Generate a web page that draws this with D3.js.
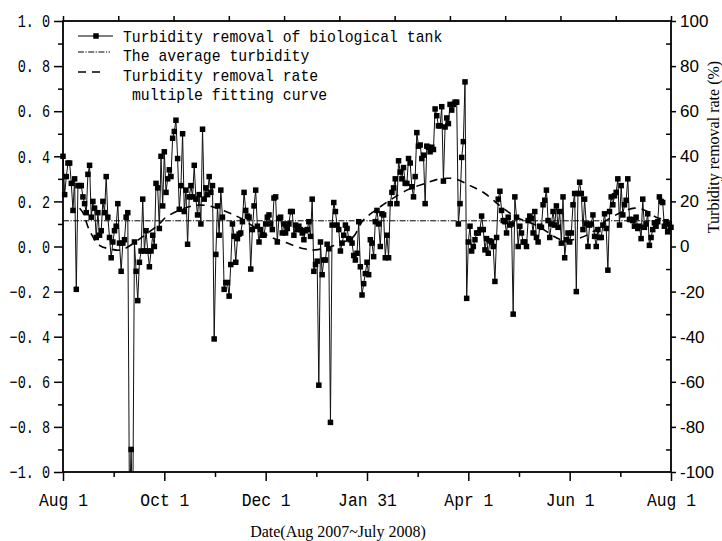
<!DOCTYPE html>
<html><head><meta charset="utf-8">
<script src="https://cdn.jsdelivr.net/npm/d3@7"></script>
<style>body{margin:0;background:#fff}</style>
</head><body>
<svg id="c" width="722" height="541"></svg>
<script>
// ---------------- data ----------------
const startDate = "2007-08-01";
// daily turbidity removal of biological tank (Aug 1 2007 .. Aug 1 2008)
const removal = [
 0.40, 0.23, 0.31, 0.37, 0.37, 0.28, 0.16, 0.30, -0.19, 0.27,
 0.27, 0.27, 0.22, 0.19, 0.15, 0.32, 0.36, 0.13, 0.20, 0.17,
 0.04, 0.15, 0.05, 0.07, 0.20, 0.15, 0.31, 0.13, 0.04, -0.05,
 0.02, 0.07, 0.09, 0.19, 0.015, -0.11, 0.015, 0.03, 0.13, 0.15,
 -1.15, -0.90, -1.2, 0.02, -0.11, -0.24, -0.07, -0.02, 0.21, -0.02,
 0.07, -0.02, -0.09, -0.02, 0.05, 0.00, 0.28, 0.26, 0.08, 0.40,
 0.18, 0.42, 0.24, 0.30, 0.34, 0.31, 0.48, 0.51, 0.56, 0.39,
 0.165, 0.27, 0.50, 0.155, 0.25, 0.01, 0.22, 0.27, 0.22, 0.36,
 0.21, 0.14, 0.23, 0.10, 0.52, 0.21, 0.26, 0.23, 0.31, 0.24,
 0.27, -0.41, -0.035, 0.18, 0.05, 0.25, 0.13, -0.19, -0.16, -0.16,
 -0.22, -0.08, 0.10, 0.045, -0.07, 0.035, 0.055, 0.06, 0.11, 0.24,
 0.16, 0.135, 0.13, -0.10, 0.075, 0.18, 0.25, 0.09, 0.02, 0.075,
 0.05, 0.05, 0.10, 0.13, 0.14, 0.10, 0.075, 0.215, 0.22, 0.02,
 0.125, 0.13, 0.06, 0.10, 0.06, 0.08, 0.10, 0.155, 0.155, 0.05,
 0.095, 0.075, 0.09, 0.075, 0.06, 0.03, 0.07, 0.075, 0.11, 0.045,
 0.21, -0.11, -0.08, -0.065, -0.615, 0.02, -0.125, -0.06, -0.06, 0.01,
 -0.01, -0.78, 0.095, 0.195, 0.155, 0.095, 0.075, -0.02, 0.015, 0.05,
 0.095, 0.08, 0.035, 0.03, 0.015, -0.04, -0.06, -0.03, 0.11, -0.09,
 -0.215, -0.165, -0.12, -0.07, -0.125, 0.03, 0.015, -0.045, 0.11, 0.16,
 0.10, 0.00, 0.145, 0.14, -0.05, 0.05, -0.05, 0.19, 0.24, 0.26,
 0.30, 0.19, 0.38, 0.33, 0.30, 0.35, 0.28, 0.28, 0.39, 0.37,
 0.265, 0.22, 0.31, 0.505, 0.445, 0.45, 0.39, 0.405, 0.19, 0.445,
 0.44, 0.42, 0.44, 0.43, 0.61, 0.58, 0.535, 0.535, 0.62, 0.29,
 0.53, 0.57, 0.545, 0.63, 0.605, 0.63, 0.64, 0.64, 0.10, 0.19,
 0.395, 0.465, 0.73, -0.23, 0.02, 0.09, -0.02, 0.00, 0.03, 0.06,
 0.06, 0.075, 0.135, 0.075, -0.015, 0.035, -0.03, 0.025, 0.02, 0.00,
 -0.155, 0.04, 0.21, 0.245, 0.16, 0.115, 0.11, 0.06, 0.13, 0.095,
 0.10, -0.30, 0.22, 0.13, 0.00, 0.09, 0.06, 0.02, 0.02, 0.00,
 0.115, 0.135, 0.125, 0.06, 0.155, 0.04, 0.02, 0.09, 0.085, 0.185,
 0.205, 0.25, 0.115, 0.04, 0.10, 0.155, 0.095, 0.18, 0.085, 0.155,
 0.015, 0.22, -0.05, 0.03, 0.06, 0.02, 0.06, 0.185, 0.235, -0.20,
 0.235, 0.285, 0.235, 0.075, 0.21, 0.10, 0.00, 0.095, 0.10, 0.14,
 0.045, 0.00, 0.075, 0.04, 0.04, 0.095, 0.145, 0.08, -0.105, 0.155,
 0.22, 0.185, 0.225, 0.24, 0.30, 0.095, 0.27, 0.14, 0.185, 0.205,
 0.30, 0.12, 0.12, 0.115, 0.09, 0.13, 0.08, 0.09, 0.035, 0.21,
 0.085, 0.10, 0.145, 0.005, 0.04, 0.075, 0.105, 0.09, 0.11, 0.22,
 0.20, 0.195, 0.09, 0.11, 0.065, 0.10, 0.085
];
const averageTurbidity = 0.114;
// multiple fitting curve (day offset from start, value)
const fitDays   = [10, 12, 16, 22, 28, 35, 51, 58, 62, 78, 88, 98, 107, 124, 135, 145, 152, 169, 175, 180, 187, 207, 218, 227, 236, 245, 254, 264, 273, 286, 300, 310, 320, 328, 344, 352, 357, 362];
const fitValues = [0.17, 0.15, 0.07, 0.005, -0.01, -0.015, 0.06, 0.10, 0.13, 0.18, 0.18, 0.155, 0.125, 0.045, 0.015, -0.01, -0.015, 0.02, 0.045, 0.11, 0.155, 0.25, 0.28, 0.30, 0.30, 0.27, 0.235, 0.175, 0.13, 0.09, 0.03, 0.035, 0.07, 0.12, 0.17, 0.155, 0.13, 0.12];

const xTickDates  = ["2007-08-01","2007-10-01","2007-12-01","2008-01-31","2008-04-01","2008-06-01","2008-08-01"];
const xTickLabels = ["Aug 1","Oct 1","Dec 1","Jan 31","Apr 1","Jun 1","Aug 1"];
const leftTicks   = [-1.0,-0.8,-0.6,-0.4,-0.2,0.0,0.2,0.4,0.6,0.8,1.0];
const leftMinor   = [-0.9,-0.7,-0.5,-0.3,-0.1,0.1,0.3,0.5,0.7,0.9];
const rightTicks  = [-100,-80,-60,-40,-20,0,20,40,60,80,100];
const rightMinor  = [-90,-70,-50,-30,-10,10,30,50,70,90];
const topTickCount = 11;
const legendLabels = ["Turbidity removal of biological tank","The average turbidity","Turbidity removal rate","multiple fitting curve"];
const xTitle = "Date(Aug 2007~July 2008)";
const yRightTitle = "Turbidity removal rate (%)";

// ---------------- drawing ----------------
const svg = d3.select("#c");
const L = 63, R = 671, T = 21, B = 472;
const MONO = "'Liberation Mono', 'Courier New', monospace";
const SERIF = "'Liberation Serif', 'Times New Roman', serif";
const SANS = "'Liberation Sans', Arial, sans-serif";

const parse = d3.utcParse("%Y-%m-%d");
const t0 = parse(startDate);
const dates = removal.map((v, i) => d3.utcDay.offset(t0, i));
const tickDates = xTickDates.map(parse);

const x = d3.scaleUtc().domain([tickDates[0], tickDates[tickDates.length - 1]]).range([L, R]);
const y = d3.scaleLinear().domain([-1, 1]).range([B, T]);
const yR = d3.scaleLinear().domain([-100, 100]).range([B, T]);
const xTop = d3.scaleLinear().domain([0, topTickCount]).range([L, R]);

svg.append("defs").append("clipPath").attr("id", "clip")
  .append("rect").attr("x", L - 4).attr("y", T).attr("width", R - L + 8).attr("height", B - T);

const plot = svg.append("g").attr("clip-path", "url(#clip)");

// average line
plot.append("line")
  .attr("x1", L).attr("x2", R).attr("y1", y(averageTurbidity)).attr("y2", y(averageTurbidity))
  .attr("stroke", "#000").attr("stroke-width", 1).attr("stroke-dasharray", "6,1.5,1.2,1.5");

// main series line
plot.append("path").datum(removal)
  .attr("fill", "none").attr("stroke", "#111").attr("stroke-width", 1)
  .attr("d", d3.line().x((d, i) => x(dates[i])).y(d => y(d)));

// markers
const ms = 5.5;
plot.selectAll("rect.m").data(removal).join("rect").attr("class", "m")
  .attr("x", (d, i) => x(dates[i]) - ms / 2).attr("y", d => y(d) - ms / 2)
  .attr("width", ms).attr("height", ms).attr("fill", "#000");

// fitting curve
const fitDates = fitDays.map(dd => d3.utcDay.offset(t0, dd));
plot.append("path").datum(fitValues)
  .attr("fill", "none").attr("stroke", "#000").attr("stroke-width", 1.6)
  .attr("stroke-dasharray", "8,6")
  .attr("d", d3.line().curve(d3.curveCatmullRom).x((d, i) => x(fitDates[i])).y(d => y(d)));

// ---- axes ----
function squeeze(g, sx) {
  g.selectAll(".tick text").each(function () {
    const t = d3.select(this);
    const xx = +(t.attr("x") || 0);
    t.attr("x", xx / sx).attr("transform", `scale(${sx},1)`);
  });
}
function styleAxis(g) {
  g.select(".domain").remove();
  g.selectAll(".tick line").attr("stroke", "#000").attr("stroke-width", 1.5);
}

const fmtLeft = d => {
  const s = Math.abs(d).toFixed(1).replace(".", ". ");
  return (d < -1e-9 ? "\u2212" : "") + s;
};

// left
const gL = svg.append("g").attr("transform", `translate(${L},0)`)
  .call(d3.axisLeft(y).tickValues(leftTicks).tickSize(9).tickSizeOuter(0).tickPadding(4).tickFormat(fmtLeft));
styleAxis(gL);
gL.selectAll(".tick text").attr("font-family", MONO).attr("font-size", 18).attr("fill", "#000")
  .style("white-space", "pre");
squeeze(gL, 0.75);
const gLm = svg.append("g").attr("transform", `translate(${L},0)`)
  .call(d3.axisLeft(y).tickValues(leftMinor).tickSize(5).tickSizeOuter(0).tickFormat(""));
styleAxis(gLm);

// bottom
const labelByTime = new Map(tickDates.map((d, i) => [d.getTime(), xTickLabels[i]]));
const gB = svg.append("g").attr("transform", `translate(0,${B})`)
  .call(d3.axisBottom(x).tickValues(tickDates).tickSize(9).tickSizeOuter(0).tickPadding(12)
    .tickFormat(d => labelByTime.get(d.getTime())));
styleAxis(gB);
gB.selectAll(".tick text").attr("font-family", MONO).attr("font-size", 19).attr("fill", "#000");
squeeze(gB, 0.86);
const minorDates = tickDates.slice(0, -1).map((d, i) => new Date((d.getTime() + tickDates[i + 1].getTime()) / 2));
const gBm = svg.append("g").attr("transform", `translate(0,${B})`)
  .call(d3.axisBottom(x).tickValues(minorDates).tickSize(5).tickSizeOuter(0).tickFormat(""));
styleAxis(gBm);

// top (ticks only)
const gT = svg.append("g").attr("transform", `translate(0,${T})`)
  .call(d3.axisTop(xTop).ticks(topTickCount).tickSize(5).tickSizeOuter(0).tickFormat(""));
styleAxis(gT);

// right
const gR = svg.append("g").attr("transform", `translate(${R},0)`)
  .call(d3.axisRight(yR).tickValues(rightTicks).tickSize(5).tickSizeOuter(0).tickPadding(4).tickFormat(d => String(d)));
styleAxis(gR);
gR.selectAll(".tick text").attr("font-family", SANS).attr("font-size", 17).attr("fill", "#000");
const gRm = svg.append("g").attr("transform", `translate(${R},0)`)
  .call(d3.axisLeft(yR).tickValues(rightMinor).tickSize(5).tickSizeOuter(0).tickFormat(""));
styleAxis(gRm);

// frame
svg.append("rect").attr("x", L).attr("y", T).attr("width", R - L).attr("height", B - T)
  .attr("fill", "none").attr("stroke", "#000").attr("stroke-width", 1.8);

// titles
svg.append("text").attr("x", 338).attr("y", 537).attr("text-anchor", "middle")
  .attr("font-family", SERIF).attr("font-size", 16).attr("fill", "#000").text(xTitle);
svg.append("text").attr("transform", "translate(719,147) rotate(-90)").attr("text-anchor", "middle")
  .attr("font-family", SERIF).attr("font-size", 16).attr("fill", "#000").text(yRightTitle);

// ---- legend ----
const lg = svg.append("g");
const rowY = [36, 52, 72];
lg.append("line").attr("x1", 78).attr("x2", 113).attr("y1", rowY[0]).attr("y2", rowY[0])
  .attr("stroke", "#000").attr("stroke-width", 1.2);
lg.append("rect").attr("x", 96 - ms / 2).attr("y", rowY[0] - ms / 2).attr("width", ms).attr("height", ms).attr("fill", "#000");
lg.append("line").attr("x1", 78).attr("x2", 110).attr("y1", rowY[1]).attr("y2", rowY[1])
  .attr("stroke", "#000").attr("stroke-width", 1).attr("stroke-dasharray", "6,1.5,1.2,1.5");
lg.append("line").attr("x1", 78).attr("x2", 100).attr("y1", rowY[2]).attr("y2", rowY[2])
  .attr("stroke", "#000").attr("stroke-width", 1.6).attr("stroke-dasharray", "8,6");
const textPos = [[123, 42], [123, 61], [123, 80.5], [132, 99.5]];
legendLabels.forEach((s, i) => {
  lg.append("text").attr("transform", `translate(${textPos[i][0]},${textPos[i][1]}) scale(0.87,1)`)
    .attr("font-family", MONO).attr("font-size", 17).attr("fill", "#000").text(s);
});
</script>
</body></html>
